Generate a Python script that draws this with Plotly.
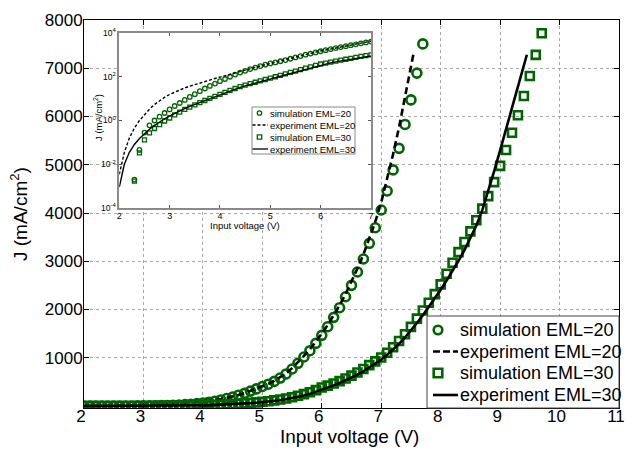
import plotly.graph_objects as go

# ---------------- data ----------------
sim20_v = [2.0, 2.1, 2.2, 2.3, 2.4, 2.5, 2.6, 2.7, 2.8, 2.9, 3.0, 3.1, 3.2, 3.3, 3.4, 3.5, 3.6, 3.7, 3.8, 3.9,
           4.0, 4.1, 4.2, 4.3, 4.4, 4.5, 4.6, 4.7, 4.8, 4.9, 5.0, 5.1, 5.2, 5.3, 5.4, 5.5, 5.6, 5.7, 5.8, 5.9,
           6.0, 6.1, 6.2, 6.3, 6.4, 6.5, 6.6, 6.7, 6.8, 6.9, 7.0, 7.1, 7.2, 7.3, 7.4, 7.5, 7.6, 7.7]
sim20_j = [1.5e-6, 1e-5, 5e-5, 0.002, 0.045, 0.28, 0.6, 1.0, 1.5, 2.2, 3.2, 4.6, 6.3, 8.7, 12, 16, 22, 29, 38, 49,
           63, 79, 100, 126, 155, 186, 224, 263, 309, 355, 405, 452, 510, 580, 665, 767, 885, 1016, 1146, 1299,
           1465, 1644, 1838, 2038, 2265, 2501, 2777, 3047, 3372, 3695, 4062, 4456, 4893, 5340, 5835, 6344, 6900, 7505]

exp20_v = [2.0, 2.1, 2.2, 2.3, 2.4, 2.5, 2.6, 2.7, 2.8, 2.9, 3.0, 3.1, 3.2, 3.3, 3.4, 3.5, 3.6, 3.7, 3.8, 3.9,
           4.0, 4.1, 4.2, 4.3, 4.4, 4.5, 4.6, 4.7, 4.8, 4.9, 5.0, 5.1, 5.2, 5.3, 5.4, 5.5, 5.6, 5.7, 5.8, 5.9,
           6.0, 6.1, 6.2, 6.3, 6.4, 6.5, 6.6, 6.7, 6.8, 6.9, 7.0, 7.1, 7.2, 7.3, 7.4, 7.5, 7.54]
exp20_j = [0.0035, 0.035, 0.16, 0.45, 1.0, 1.9, 3.3, 5.4, 8.1, 11.5, 15.5, 20, 25, 31, 37, 44, 51, 60, 71, 83,
           96, 110, 126, 143, 165, 192, 228, 268, 312, 358, 410, 458, 520, 592, 680, 785, 905, 1040, 1175, 1330,
           1500, 1680, 1880, 2090, 2320, 2570, 2850, 3140, 3470, 3820, 4220, 4700, 5220, 5780, 6380, 7030, 7280]

sim30_v = [2.0, 2.1, 2.2, 2.3, 2.4, 2.5, 2.6, 2.7, 2.8, 2.9, 3.0, 3.1, 3.2, 3.3, 3.4, 3.5, 3.6, 3.7, 3.8, 3.9,
           4.0, 4.1, 4.2, 4.3, 4.4, 4.5, 4.6, 4.7, 4.8, 4.9, 5.0, 5.1, 5.2, 5.3, 5.4, 5.5, 5.6, 5.7, 5.8, 5.9,
           6.0, 6.1, 6.2, 6.3, 6.4, 6.5, 6.6, 6.7, 6.8, 6.9, 7.0, 7.1, 7.2, 7.3, 7.4, 7.5, 7.6, 7.7, 7.8, 7.9,
           8.0, 8.1, 8.2, 8.3, 8.4, 8.5, 8.6, 8.7, 8.8, 8.9, 9.0, 9.1, 9.2, 9.3, 9.4, 9.5, 9.6, 9.7]
sim30_j = [1e-6, 1e-5, 5e-5, 0.0017, 0.033, 0.13, 0.27, 0.43, 0.65, 0.95, 1.3, 1.8, 2.4, 3.2, 4.1, 5.2, 6.5, 8.2, 10.3, 12.8,
           15.8, 19.5, 24, 29, 35, 41, 48, 56, 65, 75, 87, 100, 116, 135, 157, 182, 212, 246, 285, 330,
           383, 423, 467, 516, 570, 630, 695, 768, 848, 925, 1005, 1104, 1219, 1346, 1486, 1640, 1811, 1980, 2140, 2320,
           2520, 2740, 2970, 3190, 3400, 3620, 3850, 4090, 4350, 4640, 4976, 5305, 5663, 6027, 6426, 6838, 7278, 7725]

exp30_v = [2.0, 2.1, 2.2, 2.3, 2.4, 2.5, 2.6, 2.7, 2.8, 2.9, 3.0, 3.1, 3.2, 3.3, 3.4, 3.5, 3.6, 3.7, 3.8, 3.9,
           4.0, 4.1, 4.2, 4.3, 4.4, 4.5, 4.6, 4.7, 4.8, 4.9, 5.0, 5.1, 5.2, 5.3, 5.4, 5.5, 5.6, 5.7, 5.8, 5.9,
           6.0, 6.1, 6.2, 6.3, 6.4, 6.5, 6.6, 6.7, 6.8, 6.9, 7.0, 7.1, 7.2, 7.3, 7.4, 7.5, 7.6, 7.7, 7.8, 7.9,
           8.0, 8.1, 8.2, 8.3, 8.4, 8.5, 8.6, 8.7, 8.8, 8.9, 9.0, 9.1, 9.2, 9.3, 9.4, 9.45]
exp30_j = [0.0009, 0.01, 0.035, 0.08, 0.15, 0.25, 0.4, 0.6, 0.87, 1.2, 1.62, 2.14, 2.75, 3.5, 4.4, 5.4, 6.6, 8.0, 9.8, 12.1,
           14.9, 18.3, 22.3, 27, 32.5, 38, 44.5, 52, 60, 69, 79, 91, 105, 121, 140, 162, 188, 218, 252, 292,
           345, 385, 428, 476, 528, 585, 648, 717, 793, 874, 960, 1060, 1170, 1290, 1420, 1560, 1720, 1880, 2050, 2230,
           2410, 2600, 2800, 3010, 3230, 3470, 3740, 4060, 4450, 4870, 5300, 5730, 6160, 6600, 7050, 7280]

names = ["simulation EML=20", "experiment EML=20", "simulation EML=30", "experiment EML=30"]

main_xticks = [2, 3, 4, 5, 6, 7, 8, 9, 10, 11]
main_yticks = [1000, 2000, 3000, 4000, 5000, 6000, 7000, 8000]
inset_xticks = [2, 3, 4, 5, 6, 7]
inset_yticks = [1e-4, 1e-2, 1, 1e2, 1e4]
inset_yticktext = ["10<sup>-4</sup>", "10<sup>-2</sup>", "10<sup>0</sup>", "10<sup>2</sup>", "10<sup>4</sup>"]

# ---------------- layout geometry (pixels) ----------------
W, H = 626, 449
L, R, T, B = 84, 619, 20, 408          # plot area in px
PW, PH = R - L, B - T


def px_x(px):
    return (px - L) / PW


def px_y(py):
    return (B - py) / PH


GREEN = "rgb(0,100,0)"
FONT = "Liberation Sans, Arial, Helvetica, sans-serif"

styles = [
    dict(mode="markers", marker=dict(symbol="circle-open", size=9, color=GREEN, line=dict(width=2.6))),
    dict(mode="lines", line=dict(color="black", width=2.6, dash="7px,4px")),
    dict(mode="markers", marker=dict(symbol="square-open", size=8, color=GREEN, line=dict(width=2.6))),
    dict(mode="lines", line=dict(color="black", width=2.6)),
]
inset_styles = [
    dict(mode="markers", marker=dict(symbol="circle-open", size=4.5, color=GREEN, line=dict(width=1.3))),
    dict(mode="lines", line=dict(color="black", width=1.4, dash="3px,2px")),
    dict(mode="markers", marker=dict(symbol="square-open", size=4, color=GREEN, line=dict(width=1.3))),
    dict(mode="lines", line=dict(color="black", width=1.4)),
]
series = [(sim20_v, sim20_j), (exp20_v, exp20_j), (sim30_v, sim30_j), (exp30_v, exp30_j)]

fig = go.Figure()
for (xv, yv), nm, st in zip(series, names, styles):
    fig.add_trace(go.Scatter(x=xv, y=yv, name=nm, xaxis="x", yaxis="y", showlegend=False, **st))
for (xv, yv), nm, st in zip(series, names, inset_styles):
    fig.add_trace(go.Scatter(x=xv, y=yv, name=nm, xaxis="x2", yaxis="y2", showlegend=False, **st))

shapes = []
annotations = []


def add_legend(box, rows, sym_x, sym_r, line_x0, line_x1, text_x, fsize, lw, dash, border):
    x0, y0, x1, y1 = box
    shapes.append(dict(type="rect", xref="paper", yref="paper",
                       x0=px_x(x0), x1=px_x(x1), y0=px_y(y1), y1=px_y(y0),
                       fillcolor="white", line=dict(color=border, width=1), layer="above"))
    kinds = ["circle", "dash", "square", "solid"]
    for ry, nm, kind in zip(rows, names, kinds):
        if kind in ("circle", "square"):
            shapes.append(dict(type="circle" if kind == "circle" else "rect", xref="paper", yref="paper",
                               x0=px_x(sym_x - sym_r), x1=px_x(sym_x + sym_r),
                               y0=px_y(ry + sym_r), y1=px_y(ry - sym_r),
                               line=dict(color=GREEN, width=lw), layer="above"))
        else:
            shapes.append(dict(type="line", xref="paper", yref="paper",
                               x0=px_x(line_x0), x1=px_x(line_x1), y0=px_y(ry), y1=px_y(ry),
                               line=dict(color="black", width=lw,
                                         dash=dash if kind == "dash" else "solid"), layer="above"))
        annotations.append(dict(text=nm, xref="paper", yref="paper", x=px_x(text_x), y=px_y(ry),
                                xanchor="left", yanchor="middle", showarrow=False,
                                font=dict(size=fsize, family=FONT, color="black")))


# main legend
add_legend((427, 316, 619, 408), [330, 351.5, 373, 395], 438, 4.3, 433, 458, 458, 18, 2.6, "7px,3px", "#444")
# inset legend
add_legend((252, 107, 355, 154), [113, 125, 137, 149], 259.5, 2.2, 252.5, 268, 267.5, 9.5, 1.3, "3px,2px", "#888")

# axis titles
annotations.append(dict(text="Input voltage (V)", xref="paper", yref="paper", x=px_x(349), y=px_y(436),
                        xanchor="center", yanchor="middle", showarrow=False, font=dict(size=19, family=FONT)))
annotations.append(dict(text="J (mA/cm<sup>2</sup>)", xref="paper", yref="paper", x=px_x(19), y=px_y(214),
                        xanchor="center", yanchor="middle", textangle=-90, showarrow=False,
                        font=dict(size=19, family=FONT)))
annotations.append(dict(text="Input voltage (V)", xref="paper", yref="paper", x=px_x(245), y=px_y(225.5),
                        xanchor="center", yanchor="middle", showarrow=False, font=dict(size=9.5, family=FONT)))
annotations.append(dict(text="J (mA/cm<sup>2</sup>)", xref="paper", yref="paper", x=px_x(98), y=px_y(118),
                        xanchor="center", yanchor="middle", textangle=-90, showarrow=False,
                        font=dict(size=9.5, family=FONT)))

fig.update_layout(
    width=W, height=H,
    margin=dict(l=L, r=W - R, t=T, b=H - B, autoexpand=False),
    paper_bgcolor="white", plot_bgcolor="white",
    font=dict(family=FONT, color="black"),
    showlegend=False,
    xaxis=dict(domain=[0, 1], range=[2, 11], tickvals=main_xticks,
               ticks="inside", ticklen=5, tickcolor="black", mirror="ticks",
               showline=True, linecolor="black", linewidth=1,
               showgrid=True, gridcolor="#a8a8a8", griddash="dot", gridwidth=1, zeroline=False,
               tickfont=dict(size=17), ticklabelstandoff=-7, ticklabelshift=-3,
               ticklabeloverflow="allow"),
    yaxis=dict(domain=[0, 1], range=[-41, 8000], tickvals=main_yticks,
               ticks="inside", ticklen=5, tickcolor="black", mirror="ticks",
               showline=True, linecolor="black", linewidth=1,
               showgrid=True, gridcolor="#a8a8a8", griddash="dot", gridwidth=1, zeroline=False,
               tickfont=dict(size=17), ticklabelstandoff=-3, ticklabeloverflow="allow"),
    xaxis2=dict(domain=[px_x(119.3), px_x(371)], anchor="y2", range=[2, 7], tickvals=inset_xticks,
                ticks="inside", ticklen=3, tickcolor="#555", mirror="ticks",
                showline=True, linecolor="#8a8a8a", linewidth=1.5,
                showgrid=False, zeroline=False, tickfont=dict(size=9), ticklabelstandoff=-2),
    yaxis2=dict(domain=[px_y(208), px_y(33)], anchor="x2", type="log", range=[-4, 4],
                tickvals=inset_yticks, ticktext=inset_yticktext,
                ticks="inside", ticklen=3, tickcolor="#555", mirror="ticks",
                showline=True, linecolor="#8a8a8a", linewidth=1.5,
                showgrid=False, zeroline=False, tickfont=dict(size=8.5)),
    shapes=shapes,
    annotations=annotations,
)

fig.write_html("out.html", config={"displayModeBar": False},
               post_script="document.body.style.margin='0px';document.body.style.overflow='hidden';")
